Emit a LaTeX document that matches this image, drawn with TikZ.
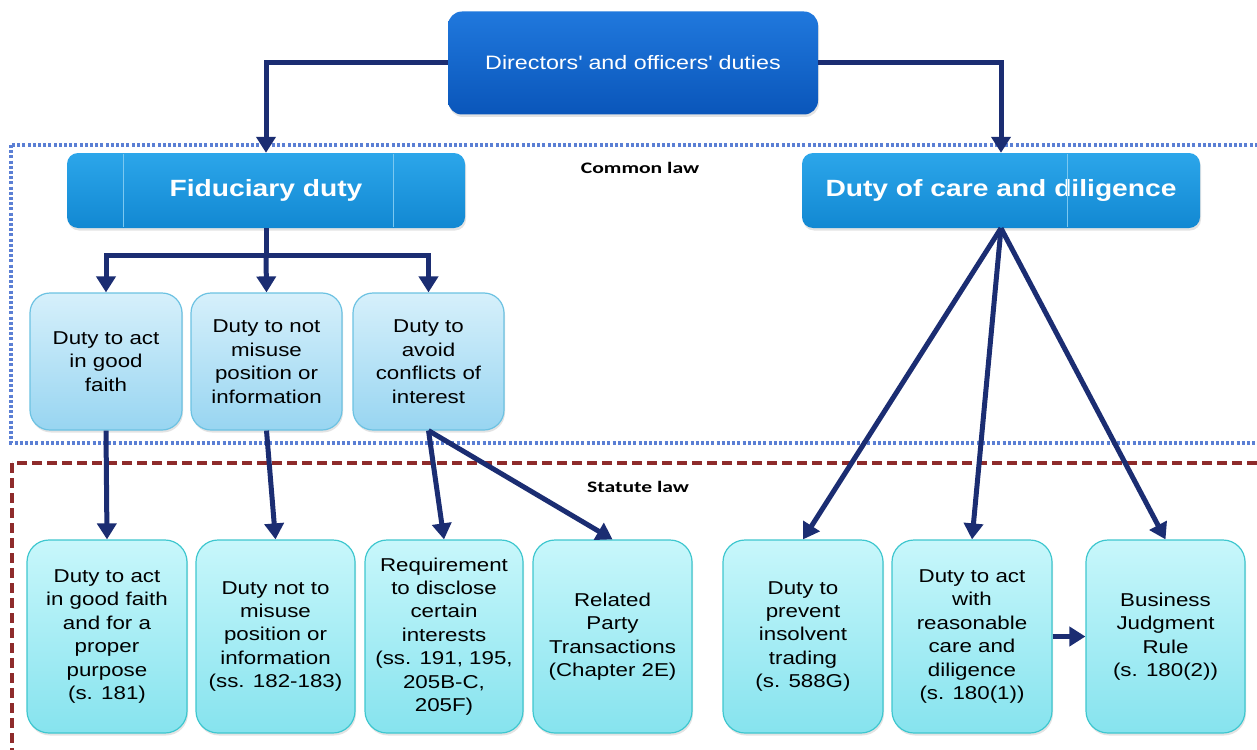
\documentclass[tikz,border=0pt]{standalone}
\usepackage{fontspec}
\setmainfont{Liberation Sans}[FakeStretch=1.2]
\newfontfamily\lblfont{Carlito}[FakeStretch=1.35]
\usetikzlibrary{arrows.meta,shadows,calc}
\definecolor{navy}{HTML}{1B2D72}
\definecolor{topA}{HTML}{2078DD}
\definecolor{topB}{HTML}{0A56BA}
\definecolor{fidA}{HTML}{2CA6EA}
\definecolor{fidB}{HTML}{1288D2}
\definecolor{comA}{HTML}{D6F0FB}
\definecolor{comB}{HTML}{98D5F1}
\definecolor{comE}{HTML}{6CC2E2}
\definecolor{stA}{HTML}{C8F7FB}
\definecolor{stB}{HTML}{86E3EE}
\definecolor{stE}{HTML}{3FC7CF}
\definecolor{dotblue}{HTML}{5B7FD4}
\definecolor{dashred}{HTML}{8E2B2B}
\definecolor{sepline}{HTML}{7CC8F0}
\begin{document}
\begin{tikzpicture}[x=1pt,y=-1pt,
  shad/.style={drop shadow={opacity=0.22,shadow xshift=1pt,shadow yshift=-2.5pt}},
  topbox/.style={shad,rounded corners=14pt,top color=topA,bottom color=topB,draw=none,
    text=white,align=center,font=\fontsize{19.4}{24}\selectfont,inner sep=0pt},
  headbox/.style={shad,rounded corners=11pt,top color=fidA,bottom color=fidB,draw=none,
    text=white,align=center,font=\fontsize{23.5}{28}\selectfont\bfseries,inner sep=0pt,
    minimum width=398pt,minimum height=75pt},
  combox/.style={shad,rounded corners=20pt,top color=comA,bottom color=comB,draw=comE,line width=1.2pt,
    align=center,font=\fontsize{18.6}{23.5}\selectfont,inner sep=0pt,minimum height=137pt},
  stbox/.style={shad,rounded corners=22pt,top color=stA,bottom color=stB,draw=stE,line width=1.2pt,
    align=center,font=\fontsize{18.6}{23.4}\selectfont,inner sep=0pt,minimum height=193pt},
  arr/.style={draw=navy,line width=5pt,-{Triangle[length=16pt,width=19pt]}},
  link/.style={draw=navy,line width=5pt},
  lbl/.style={font=\lblfont\fontsize{16}{18}\selectfont\bfseries,text=black,inner sep=0pt}
]
\useasboundingbox (0,0) rectangle (1257,749);
\clip (0,0) rectangle (1257,749);
\fill[white] (0,0) rectangle (1257,749);

% regions
\draw[dotblue,line width=3.2pt,dash pattern=on 3pt off 2.2pt] (11,145) rectangle (1275,443);
\draw[dashred,line width=3.2pt,dash pattern=on 10pt off 5pt] (12,463) rectangle (1275,760);
\node[lbl] (common) at (640,168) {Common law};
\node[lbl] (statute) at (638,487) {Statute law};

% top
\node[topbox,minimum width=370pt,minimum height=103pt] (top) at (633,63) {Directors\textquotesingle\ and officers\textquotesingle\ duties};
\node[headbox] (fid) at (266,190.5) {Fiduciary duty};
\node[headbox] (care) at (1001,190.5) {Duty of care and diligence};
\draw[sepline,line width=0.8pt] (123,154) -- (123,227) (393,154) -- (393,227) (1067,154) -- (1067,227);

% common-law boxes
\node[combox,minimum width=152pt] (c1) at (106,361.5) {Duty to act\\in good\\faith};
\node[combox,minimum width=151pt] (c2) at (266.5,361.5) {Duty to not\\misuse\\position or\\information};
\node[combox,minimum width=151pt] (c3) at (428.5,361.5) {Duty to\\avoid\\conflicts of\\interest};

% statute boxes
\node[stbox,minimum width=160pt] (b1) at (107,636.5) {Duty to act\\in good faith\\and for a\\proper\\purpose\\(s. 181)};
\node[stbox,minimum width=159pt] (b2) at (275.5,636.5) {Duty not to\\misuse\\position or\\information\\(ss. 182-183)};
\node[stbox,minimum width=158pt] (b3) at (444,636.5) {Requirement\\to disclose\\certain\\interests\\(ss. 191, 195,\\205B-C,\\205F)};
\node[stbox,minimum width=159pt] (b4) at (612.5,636.5) {Related\\Party\\Transactions\\(Chapter 2E)};
\node[stbox,minimum width=160pt] (b5) at (803,636.5) {Duty to\\prevent\\insolvent\\trading\\(s. 588G)};
\node[stbox,minimum width=160pt] (b6) at (972,636.5) {Duty to act\\with\\reasonable\\care and\\diligence\\(s. 180(1))};
\node[stbox,minimum width=159pt] (b7) at (1165.5,636.5) {Business\\Judgment\\Rule\\(s. 180(2))};

% connectors
\draw[arr] (top.west) -| (fid.north);
\draw[arr] (top.east) -| (care.north);
\coordinate (br) at ($(fid.south)+(0,27)$);
\draw[link] (fid.south) -- (br);
\draw[link,line cap=rect] (c1.north |- br) -- (c3.north |- br);
\draw[arr] (c1.north |- br) -- (c1.north);
\draw[arr] (br) -- (c2.north);
\draw[arr] (c3.north |- br) -- (c3.north);

\draw[arr] (c1.south) -- (b1.north);
\draw[arr] (c2.south) -- (b2.north);
\draw[arr] (c3.south) -- (b3.north);
\draw[arr] (c3.south) -- (b4.north);
\draw[arr] (care.south) -- (b5.north);
\draw[arr] (care.south) -- (b6.north);
\draw[arr] (care.south) -- (b7.north);
\draw[arr] (b6.east) -- (b7.west);
\end{tikzpicture}
\end{document}
